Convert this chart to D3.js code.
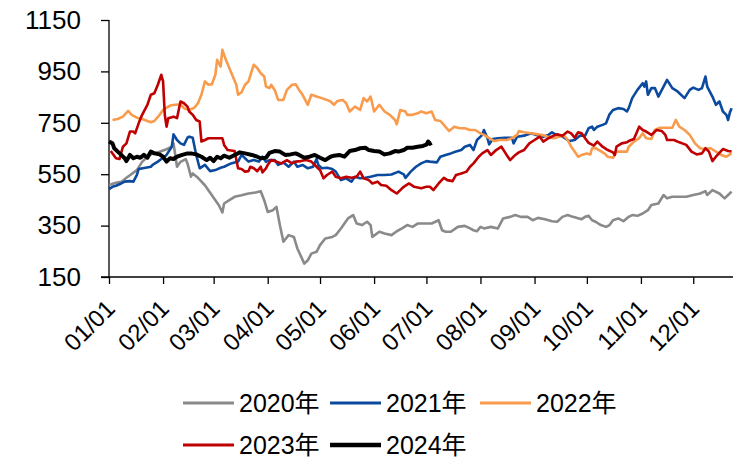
<!DOCTYPE html>
<html>
<head>
<meta charset="utf-8">
<script src="https://cdn.jsdelivr.net/npm/d3@7"></script>
<style>
  body { margin: 0; background: #fff; }
  svg text { font-family: "Liberation Sans", Arial, "Noto Sans CJK SC", sans-serif; fill: #000; }
</style>
</head>
<body>
<div id="chart"></div>
<script>
// x = day of year (0 = 01/01), y = value
const tickDays = [0, 31, 60, 91, 121, 152, 182, 213, 244, 274, 305, 335];
const tickLabels = ['01/01','02/01','03/01','04/01','05/01','06/01','07/01','08/01','09/01','10/01','11/01','12/01'];
const yTicks = [150, 350, 550, 750, 950, 1150];

const s2020 = [[0,508],[4,517],[7,520],[10,536],[12,546],[16,566],[19,598],[22,618],[25,631],[29,637],[33,647],[36,657],[37,670],[38,624],[39,579],[41,598],[44,609],[45,592],[47,540],[48,553],[51,536],[55,507],[59,468],[63,429],[65,401],[66,436],[69,449],[72,462],[76,468],[80,475],[84,479],[87,484],[89,449],[91,403],[94,410],[96,423],[98,351],[100,287],[103,313],[106,306],[108,261],[112,202],[114,215],[116,241],[119,248],[121,274],[124,300],[128,306],[130,313],[133,339],[137,378],[140,391],[142,358],[145,352],[148,365],[150,352],[151,306],[155,326],[158,319],[162,313],[165,328],[168,339],[171,352],[174,345],[177,358],[181,358],[185,358],[189,371],[191,332],[193,326],[196,326],[200,345],[204,349],[207,339],[209,332],[211,328],[213,345],[215,339],[219,345],[223,339],[226,378],[230,384],[233,391],[236,384],[240,384],[243,371],[246,380],[250,375],[254,367],[257,365],[260,384],[263,391],[266,384],[271,375],[273,384],[275,388],[277,371],[279,365],[282,352],[285,345],[287,352],[289,371],[292,378],[295,367],[298,384],[300,391],[303,388],[306,397],[309,410],[311,430],[315,436],[318,469],[320,456],[323,462],[327,462],[331,462],[335,469],[339,475],[342,484],[343,469],[346,488],[350,475],[353,456],[355,469],[357,482]];

const s2021 = [[0,492],[2,501],[4,505],[7,514],[9,521],[12,523],[14,521],[16,547],[17,570],[21,575],[24,579],[25,586],[28,599],[30,609],[33,625],[36,657],[37,705],[39,683],[41,670],[43,664],[45,692],[46,696],[48,692],[50,625],[52,573],[55,586],[58,562],[61,566],[64,575],[66,579],[70,592],[74,599],[76,625],[78,612],[80,599],[83,605],[86,599],[88,618],[90,598],[92,605],[95,605],[97,586],[100,596],[103,579],[106,599],[108,579],[111,586],[114,573],[117,579],[119,609],[120,586],[122,573],[125,575],[128,570],[130,560],[133,527],[136,534],[139,521],[141,540],[144,534],[147,536],[150,540],[154,547],[158,547],[162,549],[166,560],[169,549],[170,536],[173,560],[176,579],[179,592],[182,601],[184,599],[188,596],[190,618],[193,625],[196,631],[199,638],[202,644],[204,657],[207,664],[209,644],[211,683],[213,696],[214,703],[215,722],[217,690],[218,666],[220,687],[223,690],[227,692],[231,692],[232,670],[234,696],[238,700],[242,709],[245,703],[249,696],[252,703],[254,713],[256,705],[259,700],[261,692],[264,679],[267,683],[270,700],[273,700],[275,729],[277,735],[278,722],[280,735],[283,742],[285,748],[287,783],[289,800],[292,807],[295,804],[297,794],[298,807],[300,846],[303,878],[306,904],[307,891],[308,911],[309,859],[311,885],[313,885],[315,852],[317,878],[320,917],[323,885],[326,872],[330,846],[333,878],[335,887],[338,878],[340,885],[342,930],[343,891],[346,852],[348,820],[350,833],[352,794],[354,781],[355,761],[356,790],[357,807]];

const s2022 = [[2,761],[5,765],[8,774],[11,796],[13,781],[16,770],[19,765],[22,757],[24,752],[26,757],[29,781],[31,800],[35,817],[38,820],[41,822],[43,807],[46,800],[49,809],[51,826],[53,859],[55,911],[57,898],[59,900],[61,937],[62,995],[64,969],[65,1034],[67,995],[69,963],[71,930],[73,898],[74,859],[76,869],[78,898],[80,911],[83,976],[85,963],[87,943],[89,930],[90,891],[92,885],[93,898],[95,878],[97,839],[100,839],[102,878],[105,898],[107,900],[109,878],[111,859],[114,820],[116,859],[119,852],[122,846],[125,839],[127,833],[129,820],[131,835],[134,839],[136,826],[138,794],[141,813],[144,800],[146,846],[148,833],[150,852],[152,794],[155,820],[158,794],[161,781],[164,761],[165,744],[167,800],[170,794],[171,781],[174,781],[177,787],[179,794],[182,787],[185,794],[187,761],[190,757],[192,742],[195,718],[198,735],[201,729],[204,729],[207,722],[210,722],[213,709],[215,703],[218,690],[221,679],[224,683],[228,683],[231,690],[234,703],[235,718],[238,713],[242,709],[246,705],[250,700],[253,692],[255,690],[258,696],[261,700],[263,683],[265,657],[267,638],[269,618],[271,625],[274,631],[276,627],[277,651],[279,651],[281,644],[284,631],[286,618],[289,614],[291,638],[294,638],[297,638],[298,657],[301,677],[304,690],[306,709],[308,690],[311,687],[313,722],[316,731],[319,731],[323,731],[325,761],[327,735],[330,722],[333,703],[336,670],[339,651],[341,648],[345,651],[348,638],[351,625],[354,618],[356,627],[357,631]];

const s2023 = [[1,640],[4,612],[6,609],[8,657],[10,670],[12,716],[14,716],[15,709],[17,748],[19,781],[22,820],[24,859],[26,865],[28,898],[30,937],[31,911],[32,781],[33,735],[34,768],[37,774],[39,768],[41,833],[43,826],[45,813],[46,794],[48,781],[50,761],[52,755],[53,677],[55,683],[57,690],[61,690],[65,690],[66,664],[68,644],[72,640],[74,573],[76,570],[78,560],[80,562],[81,579],[83,573],[85,562],[87,579],[88,557],[90,573],[91,586],[93,605],[96,599],[99,592],[102,605],[105,592],[107,599],[110,601],[113,605],[116,599],[119,579],[121,566],[123,534],[125,547],[128,560],[130,540],[133,534],[136,540],[139,536],[142,540],[144,560],[146,534],[149,527],[151,514],[154,521],[156,508],[159,505],[162,488],[165,475],[167,488],[169,501],[172,514],[175,501],[179,495],[182,501],[184,501],[186,488],[189,514],[192,536],[194,527],[197,523],[199,547],[202,553],[205,560],[207,579],[209,592],[212,618],[214,631],[217,644],[219,625],[222,644],[225,657],[228,625],[230,605],[233,625],[235,635],[238,644],[241,670],[244,683],[247,696],[249,677],[252,690],[255,700],[257,705],[260,700],[263,716],[265,709],[267,692],[269,713],[271,709],[273,690],[275,672],[278,661],[280,677],[283,657],[286,644],[289,635],[290,625],[291,657],[294,670],[297,674],[298,679],[301,687],[304,735],[306,722],[308,716],[311,703],[314,722],[317,718],[319,703],[320,683],[324,683],[327,674],[331,664],[334,638],[337,627],[340,631],[342,651],[344,638],[346,601],[348,618],[352,648],[355,640],[357,638]];

const s2024 = [[0,677],[2,670],[3,651],[5,638],[7,625],[9,612],[10,601],[12,625],[14,612],[16,618],[18,614],[20,625],[22,614],[24,638],[26,631],[29,627],[31,618],[33,599],[35,612],[37,609],[39,618],[42,625],[45,631],[47,631],[50,627],[53,618],[56,605],[58,614],[60,601],[62,618],[64,612],[66,622],[69,614],[72,625],[75,635],[78,631],[82,625],[85,618],[87,612],[90,614],[92,633],[95,640],[98,638],[101,625],[104,627],[107,631],[109,625],[112,614],[115,618],[118,625],[121,614],[124,605],[127,618],[129,622],[132,625],[135,618],[138,640],[141,644],[144,651],[147,653],[149,644],[152,640],[155,638],[158,627],[161,631],[164,640],[166,638],[169,644],[171,653],[174,653],[177,657],[180,660],[182,665],[183,677],[184,668],[185,672]];

const seriesNames = ['2020年', '2021年', '2022年', '2023年', '2024年'];
const seriesData = [s2020, s2021, s2022, s2023, s2024];
const seriesColors = ['#8a8a8a', '#0b4a9e', '#f99b4c', '#c00000', '#000000'];
const seriesWidths = [2.6, 2.6, 2.6, 2.6, 4];

const W = 733, H = 461;
const svg = d3.select('#chart').append('svg').attr('width', W).attr('height', H);

const x = d3.scaleLinear().domain([0, 365]).range([109, 109 + 365 * 1.744]);
const y = d3.scaleLinear().domain([150, 1150]).range([277, 20]);

// axes
const yAxis = svg.append('g')
    .attr('transform', 'translate(109,0)')
    .call(d3.axisLeft(y).tickValues(yTicks).tickSize(8).tickPadding(20).tickFormat(d3.format('d')));
yAxis.select('.domain').attr('d', 'M0,' + y(1150) + 'V' + y(150)).attr('stroke', '#000').attr('stroke-width', 1.3);
yAxis.selectAll('line').attr('stroke', '#000').attr('stroke-width', 1.3);
yAxis.selectAll('text').attr('font-size', 26).attr('fill', '#000');

const xAxis = svg.append('g')
    .attr('transform', 'translate(0,277)')
    .call(d3.axisBottom(x).tickValues(tickDays).tickSize(7).tickFormat((d, i) => tickLabels[i]));
xAxis.select('.domain').attr('d', 'M101,0H' + W).attr('stroke', '#000').attr('stroke-width', 1.3);
xAxis.selectAll('line').attr('stroke', '#000').attr('stroke-width', 1.3);
xAxis.selectAll('text')
    .attr('font-size', 24)
    .attr('fill', '#000')
    .attr('x', 0).attr('y', 0).attr('dy', 0)
    .attr('text-anchor', 'end')
    .attr('transform', 'translate(7,33) rotate(-45)');

// lines
const line = d3.line().x(d => x(d[0])).y(d => y(d[1]));
svg.append('g')
    .selectAll('path')
    .data(seriesData)
    .join('path')
    .attr('d', line)
    .attr('fill', 'none')
    .attr('stroke', (d, i) => seriesColors[i])
    .attr('stroke-width', (d, i) => seriesWidths[i])
    .attr('stroke-linejoin', 'round');

// legend
const legendPos = [[183, 403], [330, 403], [480, 403], [183, 445], [330, 445]];
const legend = svg.append('g')
    .selectAll('g')
    .data(seriesNames)
    .join('g')
    .attr('transform', (d, i) => 'translate(' + legendPos[i][0] + ',' + legendPos[i][1] + ')');
legend.append('line')
    .attr('x1', 0).attr('x2', 51)
    .attr('stroke', (d, i) => seriesColors[i])
    .attr('stroke-width', (d, i) => i == 4 ? 4.5 : 3);
legend.append('text')
    .attr('x', 56)
    .attr('dy', '0.35em')
    .attr('font-size', 25)
    .text(d => d);
</script>
</body>
</html>
